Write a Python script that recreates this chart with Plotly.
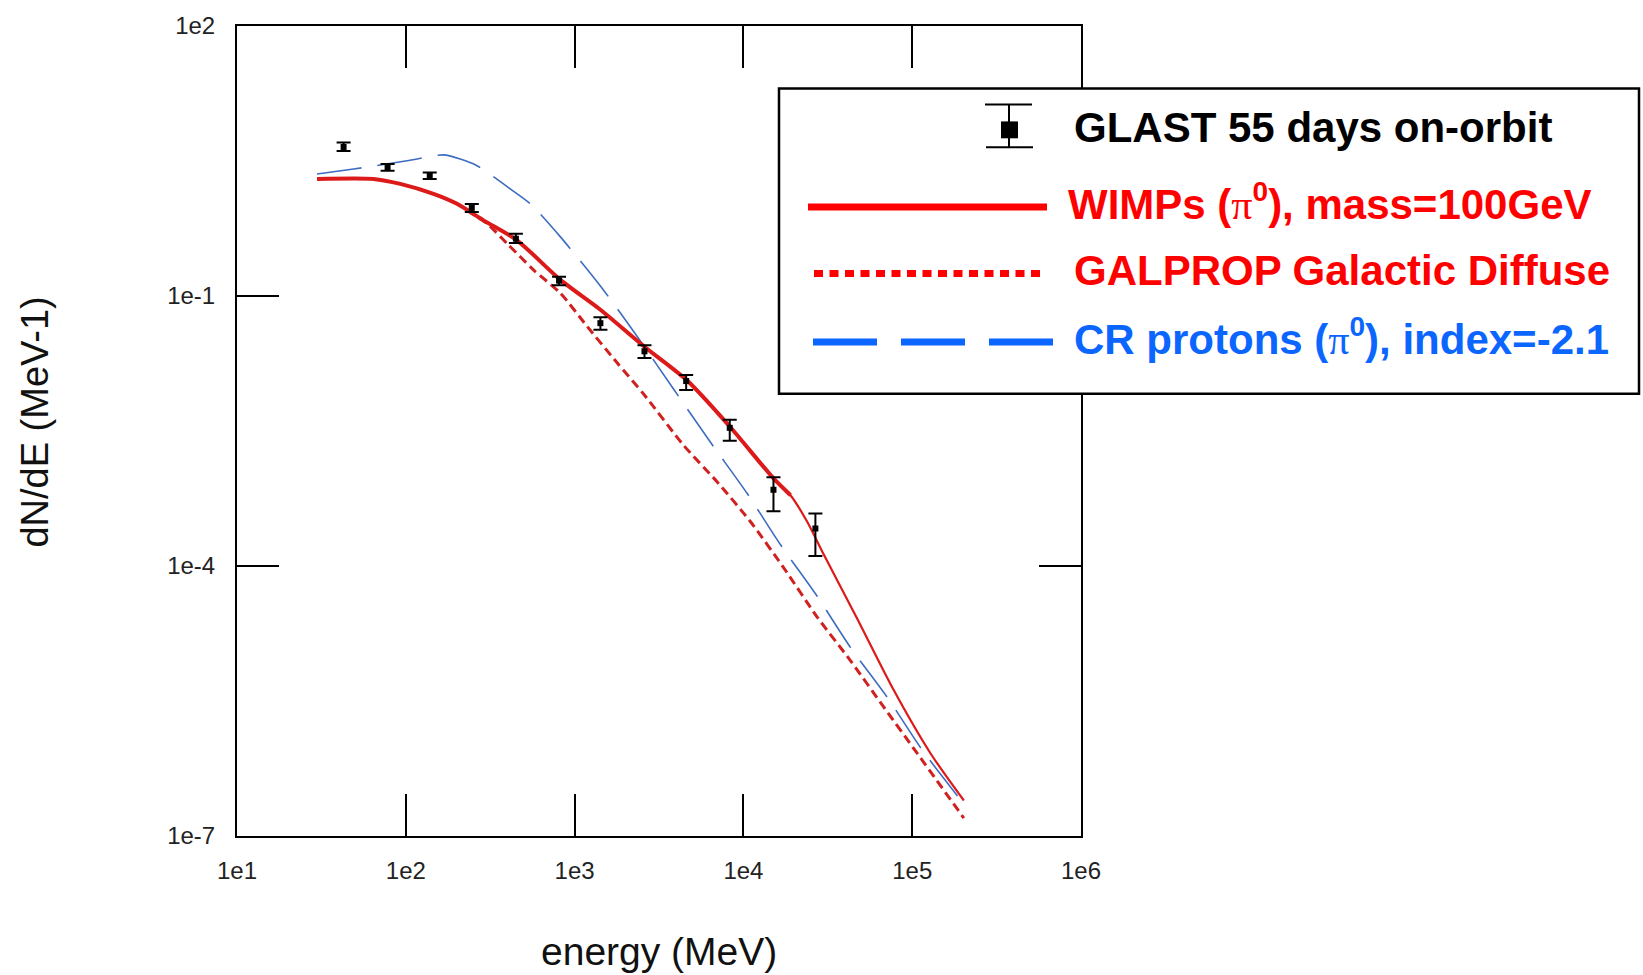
import plotly.graph_objects as go

# ---------------- data ----------------
data_E = [42.8, 78.0, 138.6, 246, 449, 809, 1422, 2594, 4581, 8300, 15070, 26700]
data_y = [4.53, 2.68, 2.17, 0.953, 0.433, 0.148, 0.0499, 0.0243, 0.01135, 0.00343, 7.03e-4, 2.61e-4]
data_hi = [5.07, 2.92, 2.36, 1.054, 0.492, 0.164, 0.0582, 0.0283, 0.01321, 0.00421, 9.7e-4, 3.82e-4]
data_lo = [4.09, 2.46, 2.00, 0.855, 0.388, 0.132, 0.0421, 0.0205, 0.00902, 0.00247, 4.06e-4, 1.29e-4]

wimp_E = [29.8, 64.4, 92.7, 146, 201, 289, 456, 824, 1422, 2570, 4645, 8375, 15136,
          19010, 23880, 29990, 47320, 77980, 128500, 202300]
wimp_y = [2.00, 2.00, 1.76, 1.365, 1.057, 0.692, 0.416, 0.151, 0.0703, 0.0277, 0.0115,
          3.48e-3, 9.33e-4, 6.12e-4, 3.10e-4, 1.33e-4, 2.58e-5, 4.13e-6, 8.26e-7, 2.48e-7]

gal_E = [230.7, 302.7, 398.1, 572.8, 824, 1186, 1786, 2570, 4436, 6998, 11020, 17380,
         27350, 43150, 67920, 107200, 202300]
gal_y = [0.891, 0.637, 0.383, 0.194, 0.1074, 0.0460, 0.01811, 8.1e-3, 2.18e-3, 8.59e-4,
         3.10e-4, 9.48e-5, 2.71e-5, 8.85e-6, 2.70e-6, 8.26e-7, 1.58e-7]

cr_E = [29.8, 49.1, 101.6, 167.5, 210.4, 264.2, 415.9, 547, 824, 1455, 2344, 3864, 6383,
        10540, 16600, 27350, 43150, 71120, 114800, 193600]
cr_y = [2.265, 2.576, 3.177, 3.698, 3.319, 2.799, 1.549, 1.057, 0.454, 0.122, 0.0357,
        9.20e-3, 2.37e-3, 6.38e-4, 1.72e-4, 4.61e-5, 1.24e-5, 3.48e-6, 9.0e-7, 2.52e-7]

x_tickvals = [1e1, 1e2, 1e3, 1e4, 1e5, 1e6]
x_ticktext = ["1e1", "1e2", "1e3", "1e4", "1e5", "1e6"]
y_tickvals = [1e2, 1e-1, 1e-4, 1e-7]
y_ticktext = ["1e2", "1e-1", "1e-4", "1e-7"]

PI = "<span style=\"font-family:'Liberation Serif';font-weight:normal;font-size:42px\">π</span>"
SUP0 = "<sup><span style=\"font-size:28px\">0</span></sup>"
legend_labels = [
    "GLAST 55 days on-orbit",
    "WIMPs (" + PI + SUP0 + "), mass=100GeV",
    "GALPROP Galactic Diffuse",
    "CR protons (" + PI + SUP0 + "), index=-2.1",
]

# ---------------- layout geometry ----------------
W, H = 1643, 975
ML, MR, MT, MB = 237, 562, 21, 139
PW, PH = W - ML - MR, H - MT - MB


def px(X):
    return (X - ML) / PW


def py(Y):
    return (H - MB - Y) / PH


FONT = "Arial, 'Liberation Sans', sans-serif"
RED_LINE = "#dc1a1a"
RED_DASH = "#d02020"
BLUE_LINE = "#3d6cc0"
RED_TXT = "#ff0000"
BLUE_TXT = "#0a66ff"

fig = go.Figure()

split = 13
fig.add_trace(go.Scatter(x=cr_E, y=cr_y, mode="lines", showlegend=False,
                         line=dict(color=BLUE_LINE, width=1.6, dash="45px,16px", shape="spline", smoothing=0.7)))
fig.add_trace(go.Scatter(x=gal_E, y=gal_y, mode="lines", showlegend=False,
                         line=dict(color=RED_DASH, width=3, dash="9px,5px", shape="spline", smoothing=0.7)))
fig.add_trace(go.Scatter(x=wimp_E, y=wimp_y, mode="lines", showlegend=False,
                         line=dict(color=RED_LINE, width=2.2, shape="spline", smoothing=0.7)))
fig.add_trace(go.Scatter(x=wimp_E[:split + 1], y=wimp_y[:split + 1], mode="lines", showlegend=False,
                         line=dict(color=RED_LINE, width=4, shape="spline", smoothing=0.7)))
fig.add_trace(go.Scatter(
    x=data_E, y=data_y, mode="markers", showlegend=False,
    marker=dict(symbol="square", size=6, color="black"),
    error_y=dict(type="data", symmetric=False,
                 array=[h - v for h, v in zip(data_hi, data_y)],
                 arrayminus=[v - l for v, l in zip(data_y, data_lo)],
                 color="black", thickness=2, width=7)))

axis_common = dict(showline=True, linecolor="black", linewidth=2, mirror="ticks",
                   ticks="inside", ticklen=42, tickwidth=2, tickcolor="black",
                   showgrid=False, zeroline=False,
                   tickfont=dict(family=FONT, size=24, color="#222"))

fig.update_layout(
    width=W, height=H,
    margin=dict(l=ML, r=MR, t=MT, b=MB),
    paper_bgcolor="white", plot_bgcolor="white",
    xaxis=dict(type="log", range=[1, 6], tickvals=x_tickvals, ticktext=x_ticktext,
               ticklabelstandoff=12, **axis_common),
    yaxis=dict(type="log", range=[-7, 2], tickvals=y_tickvals, ticktext=y_ticktext,
               ticklabelstandoff=15, **axis_common),
    showlegend=False,
)

annotations = [
    dict(text="energy (MeV)", x=px(659), y=py(952), xref="paper", yref="paper",
         xanchor="center", yanchor="middle", showarrow=False,
         font=dict(family=FONT, size=39, color="#111")),
    dict(text="dN/dE (MeV-1)", x=px(35), y=py(420), xref="paper", yref="paper",
         xanchor="center", yanchor="middle", showarrow=False, textangle=-90,
         font=dict(family=FONT, size=38, color="#111")),
]

# ---------------- manual legend ----------------
shapes = [
    dict(type="rect", xref="paper", yref="paper", x0=px(779), x1=px(1639), y0=py(391), y1=py(84),
         line=dict(color="black", width=2.5), fillcolor="white", layer="above"),
]
# GLAST error-bar glyph
shapes += [
    dict(type="line", xref="paper", yref="paper", x0=px(1009), x1=px(1009), y0=py(100), y1=py(143),
         line=dict(color="black", width=2), layer="above"),
    dict(type="line", xref="paper", yref="paper", x0=px(985), x1=px(1032), y0=py(100), y1=py(100),
         line=dict(color="black", width=2), layer="above"),
    dict(type="line", xref="paper", yref="paper", x0=px(986), x1=px(1033), y0=py(143), y1=py(143),
         line=dict(color="black", width=2), layer="above"),
    dict(type="rect", xref="paper", yref="paper", x0=px(1001), x1=px(1018), y0=py(134), y1=py(117),
         line=dict(color="black", width=0), fillcolor="black", layer="above"),
]
shapes += [
    dict(type="line", xref="paper", yref="paper", x0=px(808), x1=px(1047), y0=py(203), y1=py(203),
         line=dict(color=RED_TXT, width=7), layer="above"),
    dict(type="line", xref="paper", yref="paper", x0=px(814), x1=px(1046), y0=py(270), y1=py(270),
         line=dict(color=RED_TXT, width=7, dash="9px,6.5px"), layer="above"),
    dict(type="line", xref="paper", yref="paper", x0=px(813), x1=px(1054), y0=py(339), y1=py(339),
         line=dict(color=BLUE_TXT, width=7, dash="64px,24px"), layer="above"),
]

legend_pos = [(1072, 123, "black"), (1066, 198, RED_TXT), (1072, 267, RED_TXT), (1072, 334, BLUE_TXT)]
for label, (lx, ly, col) in zip(legend_labels, legend_pos):
    annotations.append(dict(text=label, x=px(lx), y=py(ly), xref="paper", yref="paper",
                            xanchor="left", yanchor="middle", showarrow=False,
                            font=dict(family=FONT, size=42, color=col, weight="bold")))

fig.update_layout(shapes=shapes, annotations=annotations)
fig.write_html("out.html")
